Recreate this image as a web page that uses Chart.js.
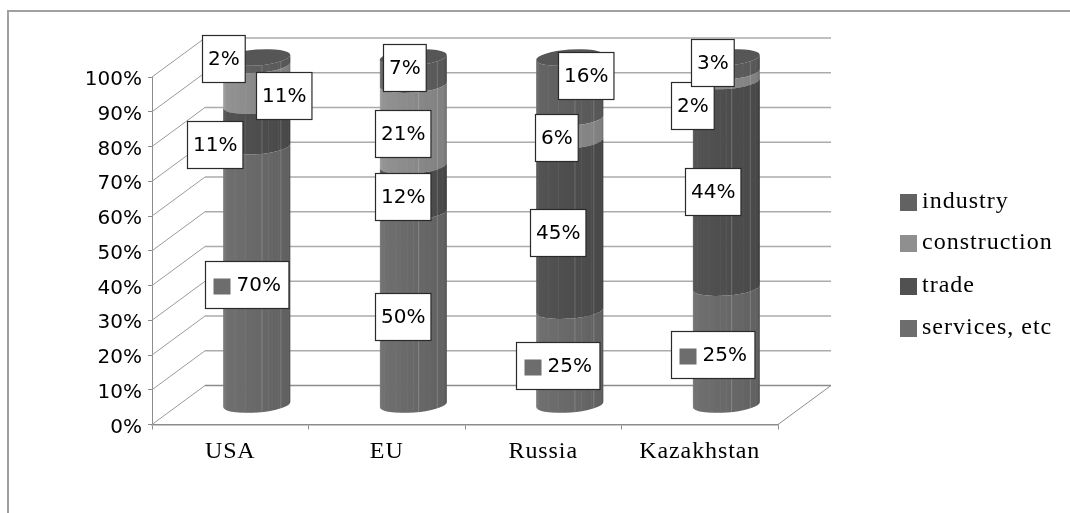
<!DOCTYPE html>
<html lang="en">

<head>
    <meta charset="UTF-8">
    <title>Employment structure</title>
    <script src="https://cdn.jsdelivr.net/npm/chart.js"></script>
    <style>
        html, body { margin: 0; padding: 0; background: #fff; }
        canvas { display: block; }
    </style>
</head>

<body>
    <canvas id="myChart" width="1070" height="513"></canvas>

    <script>
        const categories = ['USA', 'EU', 'Russia', 'Kazakhstan'];
        const yTicks = [0, 10, 20, 30, 40, 50, 60, 70, 80, 90, 100];

        // values as printed on the labels, they don't add up to 100
        const services = [70, 50, 25, 25];
        const trade = [11, 12, 45, 44];
        const construction = [11, 21, 6, 2];
        const industry = [2, 7, 16, 3];

        const seriesNames = ['services, etc', 'trade', 'construction', 'industry'];
        const seriesValues = [services, trade, construction, industry];
        const seriesColors = ['#6d6d6d', '#515151', '#8f8f8f', '#626262'];

        // label boxes were dragged by hand in the original: shift from the middle of each segment
        const labelShift = [
            [[-10, 9], [-10.5, 8], [-12, 8], [-14, 8]],
            [[-42, 19], [-10.5, 8], [-12, 7], [-14, 7]],
            [[27, 10], [-10.5, 8], [-13, 8], [-34, 29]],
            [[-33, -3], [-9, -3.5], [15.5, -12.5], [-14, -2.5]]
        ];
        // only these labels show the legend key
        const labelKey = [[true, false, true, true], [false, false, false, false], [false, false, false, false], [false, false, false, false]];

        const DEPTH_X = 53, DEPTH_Y = 39;
        const ctx = document.getElementById('myChart');

        // stacked to 100%
        const totals = categories.map((_, i) => seriesValues.reduce((s, v) => s + v[i], 0));
        const datasets = seriesNames.map((name, k) => ({
            label: name,
            data: seriesValues[k].map((v, i) => v / totals[i] * 100),
            backgroundColor: seriesColors[k],
            barPercentage: 0.43,
            categoryPercentage: 1
        }));

        function shade(hex, f) {
            const n = parseInt(hex.slice(1), 16);
            const c = [n >> 16, (n >> 8) & 255, n & 255].map(v => Math.min(255, Math.round(v * f)));
            return `rgb(${c[0]},${c[1]},${c[2]})`;
        }

        function drawSegment(g, xc, rx, ry, yTop, yBot, color) {
            const rot = -0.075;
            g.save();
            g.beginPath();
            g.ellipse(xc, yBot, rx, ry, rot, 0, Math.PI);
            g.ellipse(xc, yTop, rx, ry, rot, Math.PI, 0, true);
            g.closePath();
            g.clip();
            // vertical facets of the cylinder
            const n = 18;
            for (let i = 0; i < n; i++) {
                const a0 = -Math.PI / 2 + Math.PI * i / n, a1 = a0 + Math.PI / n;
                const x0 = xc + rx * Math.sin(a0), x1 = xc + rx * Math.sin(a1);
                const t = (i + 0.5) / n;
                let f = 1.06 - 0.2 * t;
                if (i < 2) f = 1.1;
                if (i > n - 3) f -= 0.06;
                g.fillStyle = shade(color, f);
                g.fillRect(x0, yTop - ry - 6, x1 - x0 + 0.5, yBot - yTop + 2 * ry + 12);
            }
            g.fillStyle = 'rgba(255,255,255,0.18)';
            g.fillRect(xc + rx * 0.14, yTop - ry - 6, 1, yBot - yTop + 2 * ry + 12);
            g.fillRect(xc + rx * 0.7, yTop - ry - 6, 1, yBot - yTop + 2 * ry + 12);
            g.restore();
        }

        const chart3d = {
            id: 'chart3d',
            beforeDraw(chart) {
                const g = chart.ctx;
                g.save();
                g.strokeStyle = '#a0a0a0';
                g.lineWidth = 2;
                g.beginPath();
                g.moveTo(8, 513);
                g.lineTo(8, 11);
                g.lineTo(1070, 11);
                g.stroke();
                g.restore();
            },
            beforeDatasetsDraw(chart) {
                const g = chart.ctx, x = chart.scales.x, y = chart.scales.y;
                g.save();
                y.ticks.forEach(t => {
                    const py = y.getPixelForValue(t.value);
                    g.strokeStyle = '#9a9a9a';
                    g.lineWidth = 1;
                    g.beginPath();
                    g.moveTo(x.left, py);
                    g.lineTo(x.left + DEPTH_X, py - DEPTH_Y);
                    g.stroke();
                    g.strokeStyle = t.value === 0 ? '#8c8c8c' : '#ababab';
                    g.lineWidth = 1.5;
                    g.beginPath();
                    g.moveTo(x.left + DEPTH_X, py - DEPTH_Y);
                    g.lineTo(x.right + DEPTH_X, py - DEPTH_Y);
                    g.stroke();
                });
                g.strokeStyle = '#8c8c8c';
                g.lineWidth = 1;
                g.beginPath();
                g.moveTo(x.right, y.bottom);
                g.lineTo(x.right + DEPTH_X, y.bottom - DEPTH_Y);
                g.stroke();
                g.restore();
            },
            // cylinders instead of the flat bars
            beforeDatasetDraw(chart, args) {
                const g = chart.ctx, k = args.index;
                args.meta.data.forEach(el => {
                    const xc = el.x + DEPTH_X / 2, rx = el.width / 2, ry = 8;
                    drawSegment(g, xc, rx, ry, el.y - DEPTH_Y / 2, el.base - DEPTH_Y / 2, seriesColors[k]);
                    if (k === seriesNames.length - 1) {
                        g.fillStyle = shade(seriesColors[k], 0.88);
                        g.beginPath();
                        g.ellipse(xc, el.y - DEPTH_Y / 2, rx, ry, -0.075, 0, Math.PI * 2);
                        g.fill();
                    }
                });
                return false;
            },
            afterDatasetsDraw(chart) {
                const g = chart.ctx;
                g.save();
                // data labels
                g.font = '20px "DejaVu Sans"';
                g.textBaseline = 'middle';
                g.textAlign = 'left';
                seriesNames.forEach((_, k) => {
                    chart.getDatasetMeta(k).data.forEach((el, i) => {
                        const text = seriesValues[k][i] + '%';
                        const tw = g.measureText(text).width;
                        const hasKey = labelKey[k][i];
                        const w = hasKey ? tw + 39 : tw + 11;
                        const h = 47;
                        const cx = el.x + DEPTH_X / 2 + labelShift[k][i][0];
                        const cy = (el.y + el.base) / 2 - DEPTH_Y / 2 + labelShift[k][i][1];
                        const bx = Math.round(cx - w / 2) + 0.5, by = Math.round(cy - h / 2) + 0.5;
                        g.fillStyle = '#fff';
                        g.fillRect(bx, by, w, h);
                        g.strokeStyle = '#2a2a2a';
                        g.lineWidth = 1.2;
                        g.strokeRect(bx, by, w, h);
                        if (hasKey) {
                            g.fillStyle = seriesColors[k];
                            g.fillRect(bx + 8, by + 17, 17, 16);
                        }
                        g.fillStyle = '#000';
                        g.fillText(text, bx + (hasKey ? 31 : 5.5), by + h / 2 + 1);
                    });
                });
                // legend, top of the stack first
                g.font = '24px "Liberation Serif"';
                g.letterSpacing = '1px';
                const rows = [202, 243, 286, 328];
                rows.forEach((ry, r) => {
                    const k = seriesNames.length - 1 - r;
                    g.fillStyle = seriesColors[k];
                    g.fillRect(900, ry - 8, 17, 17);
                    g.fillStyle = '#000';
                    g.fillText(seriesNames[k], 922, ry);
                });
                g.restore();
            }
        };

        new Chart(ctx, {
            type: 'bar',
            data: { labels: categories, datasets: datasets },
            plugins: [chart3d],
            options: {
                responsive: false,
                animation: false,
                layout: { padding: { left: 0, top: 77, right: 292, bottom: 0 } },
                plugins: { legend: { display: false }, tooltip: { enabled: false } },
                scales: {
                    x: {
                        stacked: true,
                        afterFit(s) {
                            s.height = 88.5;
                            if (!s.spaced) {
                                const draw = s.drawLabels;
                                s.drawLabels = function (area) {
                                    s.ctx.letterSpacing = '0.9px';
                                    draw.call(s, area);
                                    s.ctx.letterSpacing = '0px';
                                };
                                s.spaced = true;
                            }
                        },
                        border: { color: '#8c8c8c', width: 1.5 },
                        grid: { drawOnChartArea: false, tickLength: 5, color: '#8c8c8c' },
                        ticks: {
                            color: '#000',
                            autoSkip: false,
                            maxRotation: 0,
                            padding: 8,
                            font: { family: '"Liberation Serif"', size: 24 }
                        }
                    },
                    y: {
                        stacked: true,
                        min: yTicks[0],
                        max: yTicks[yTicks.length - 1],
                        afterFit(s) { s.width = 152; },
                        afterBuildTicks(s) { s.ticks = yTicks.map(v => ({ value: v })); },
                        border: { color: '#8c8c8c', width: 1 },
                        grid: { drawOnChartArea: false, tickLength: 4, color: '#8c8c8c' },
                        ticks: {
                            color: '#000',
                            padding: 6,
                            labelOffset: 3,
                            font: { family: '"DejaVu Sans"', size: 20 },
                            callback: v => v + '%'
                        }
                    }
                }
            }
        });
    </script>
</body>

</html>
